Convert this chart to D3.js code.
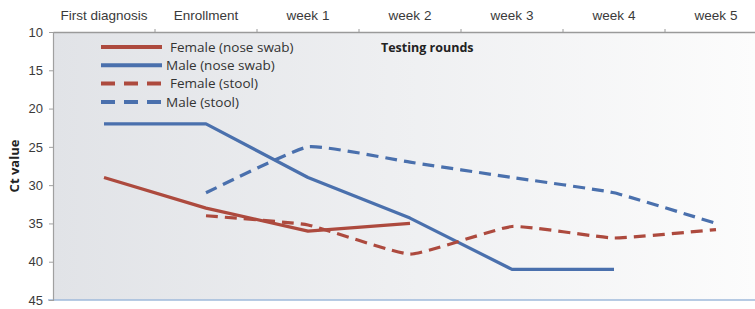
<!DOCTYPE html>
<html>
<head>
<meta charset="utf-8">
<script src="https://cdn.jsdelivr.net/npm/d3@7"></script>
<style>
body { margin: 0; background: #fff; }
svg { font-family: "Open Sans", "Liberation Sans", sans-serif; }
</style>
</head>
<body>
<svg width="755" height="309"></svg>
<script>
var width = 755, height = 309;
var margin = ({top: 32, right: -12, bottom: 9, left: 53});

var rounds = ["First diagnosis", "Enrollment", "week 1", "week 2", "week 3", "week 4", "week 5"];
var yTicks = [10, 15, 20, 25, 30, 35, 40, 45];

// Ct values per round (null = no sample)
var femaleNose = [29, 33, 36, 35, null, null, null];
var maleNose = [22, 22, 29, 34.3, 41, 41, null];
var femaleStool = [null, 34, 35.2, 39, 35.4, 36.9, 35.8];
var maleStool = [null, 31, 25, 27, 29, 31, 35];

var series = [
  {name: "Female (nose swab)", values: femaleNose, color: "#ad4a3e", dash: null},
  {name: "Male (nose swab)", values: maleNose, color: "#4a70ad", dash: null},
  {name: "Female (stool)", values: femaleStool, color: "#ad4a3e", dash: "12,7"},
  {name: "Male (stool)", values: maleStool, color: "#4a70ad", dash: "12,7"}
];

var svg = d3.select("svg").attr("viewBox", [0, 0, width, height]);

x = d3.scaleBand()
.domain(rounds)
.range([margin.left, width - margin.right]);

y = d3.scaleLinear()
.domain([10, 45])
.range([margin.top, height - margin.bottom]);

var defs = svg.append("defs");
var grad = defs.append("linearGradient").attr("id", "bg");
grad.append("stop").attr("offset", "0%").attr("stop-color", "#e1e3e7");
grad.append("stop").attr("offset", "100%").attr("stop-color", "#fcfcfc");

svg.append("rect")
.attr("x", margin.left)
.attr("y", y(10))
.attr("width", width - margin.left)
.attr("height", y(45) - y(10))
.attr("fill", "url(#bg)");

// top category axis
svg.append("g")
.attr("transform", `translate(0,${y(10)})`)
.call(d3.axisTop(x).tickSize(0).tickPadding(12))
.call(g => g.select(".domain").attr("stroke", "#9a9a9a").attr("stroke-width", 1.5))
.call(g => g.selectAll("text").attr("font-size", 13.5).attr("fill", "#3a3a3a"));

svg.append("g")
.selectAll("line")
.data(rounds.slice(1))
.join("line")
.attr("x1", d => x(d))
.attr("x2", d => x(d))
.attr("y1", y(10) - 3)
.attr("y2", y(10))
.attr("stroke", "#9a9a9a");

// bottom line
svg.append("line")
.attr("x1", margin.left - 5)
.attr("x2", width)
.attr("y1", y(45))
.attr("y2", y(45))
.attr("stroke", "#9fbadb")
.attr("stroke-width", 1.5);

// y axis
svg.append("g")
.attr("transform", `translate(${margin.left},0)`)
.call(d3.axisLeft(y).tickValues(yTicks).tickSize(4).tickPadding(6))
.call(g => g.select(".domain").attr("stroke", "#a0a0a0").attr("stroke-width", 1.2))
.call(g => g.selectAll(".tick line").attr("stroke", "#a0a0a0"))
.call(g => g.selectAll("text").attr("font-size", 13).attr("fill", "#3a3a3a"));

svg.append("text")
.attr("transform", `translate(19,${y(27.5)}) rotate(-90)`)
.attr("text-anchor", "middle")
.attr("font-size", 13)
.attr("font-weight", "bold")
.attr("fill", "#222")
.text("Ct value");

var line = d3.line()
.defined(d => d[1] != null)
.x(d => x(d[0]) + x.bandwidth() / 2)
.y(d => y(d[1]));

svg.append("g")
.selectAll("path")
.data(series)
.join("path")
.attr("fill", "none")
.attr("stroke", d => d.color)
.attr("stroke-width", 3.2)
.attr("stroke-dasharray", d => d.dash)
.attr("stroke-linejoin", "round")
.attr("d", d => line.curve(d.dash ? d3.curveCardinal.tension(0.6) : d3.curveLinear)(rounds.map((r, i) => [r, d.values[i]])));

// legend
var legend = svg.append("g")
.selectAll("g")
.data(series)
.join("g")
.attr("transform", (d, i) => `translate(101,${47 + i * 18.3})`);

legend.append("line")
.attr("x1", 0)
.attr("x2", d => d.dash ? 62 : 61)
.attr("stroke", d => d.color)
.attr("stroke-width", 4)
.attr("stroke-dasharray", d => d.dash ? "14,9" : null);

legend.append("text")
.attr("x", (d, i) => i == 1 || i == 3 ? 65 : 69)
.attr("dy", "0.35em")
.attr("font-size", 13.5)
.attr("fill", "#333")
.text(d => d.name);

svg.append("text")
.attr("x", 381)
.attr("y", 52)
.attr("font-size", 12.5)
.attr("font-weight", "bold")
.attr("fill", "#222")
.text("Testing rounds");
</script>
</body>
</html>
